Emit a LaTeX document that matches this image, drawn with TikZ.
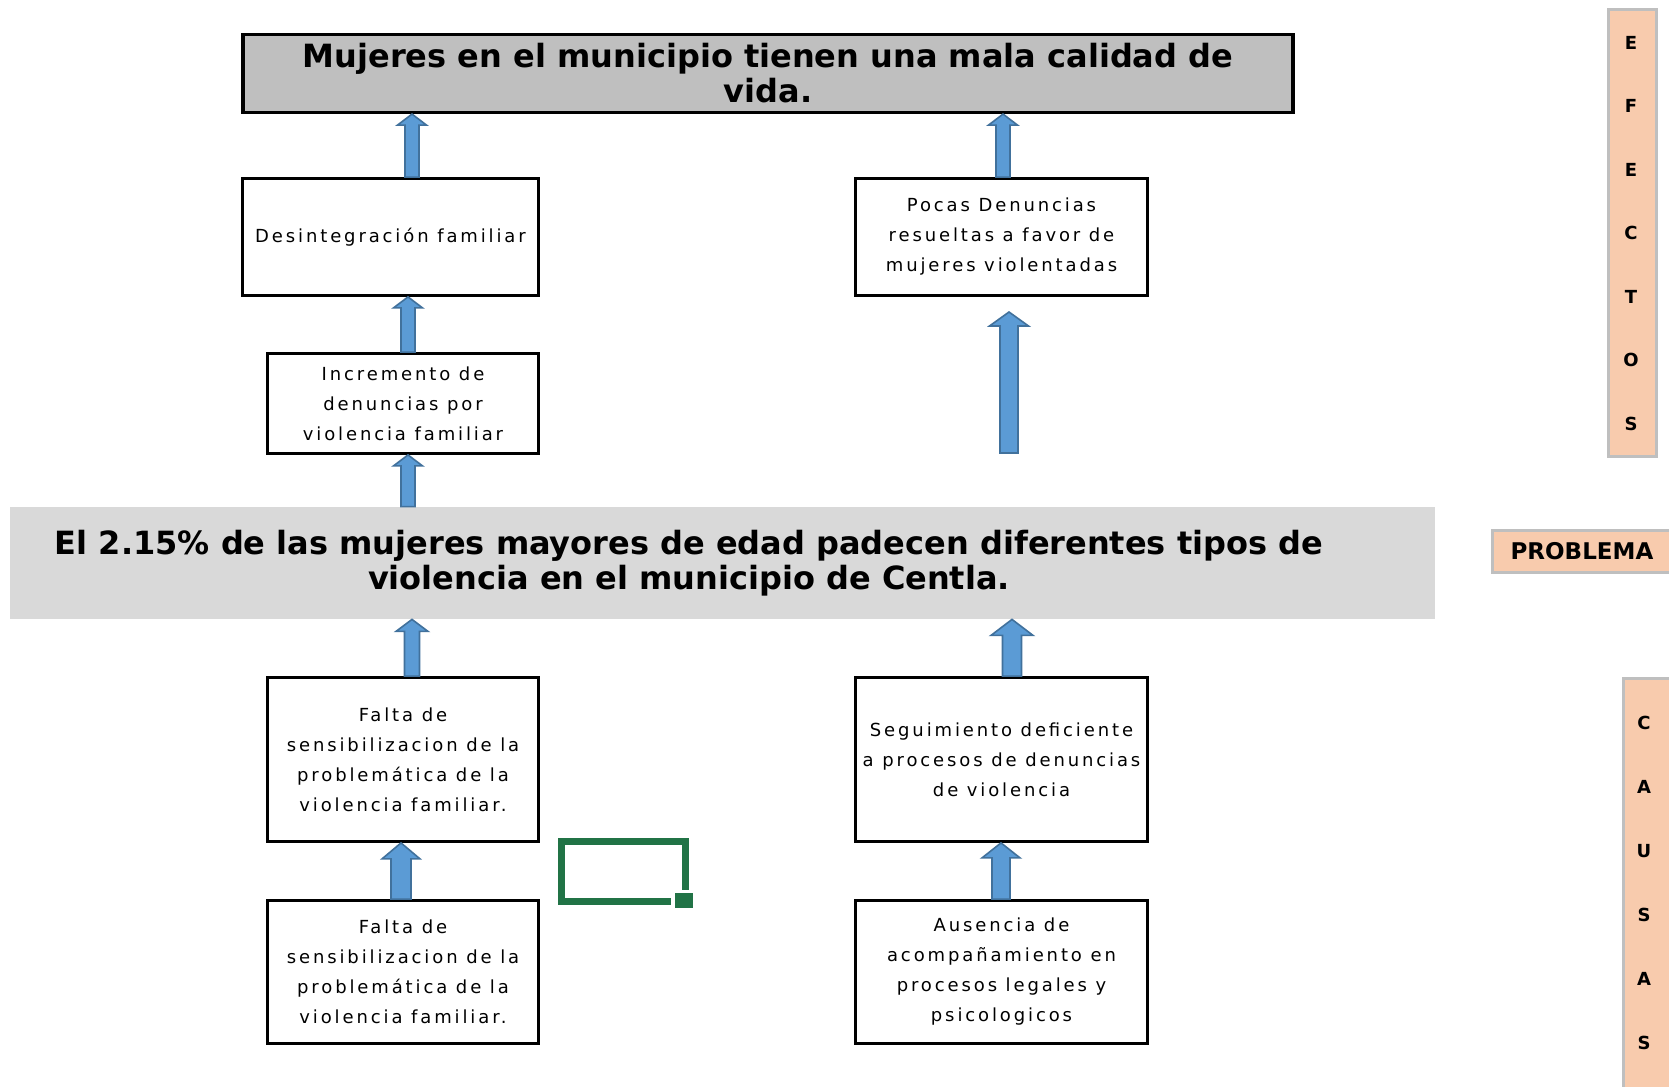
\documentclass[tikz,border=0pt]{standalone}
\usepackage{fontspec}
\setmainfont{DejaVu Sans}
\newfontfamily\cajafont[LetterSpace=16]{DejaVu Sans}
\usetikzlibrary{calc}

\definecolor{grisoscuro}{HTML}{BFBFBF}
\definecolor{grisclaro}{HTML}{D9D9D9}
\definecolor{salmon}{HTML}{F8CBAD}
\definecolor{azulflecha}{HTML}{5B9BD5}
\definecolor{bordeflecha}{HTML}{41719C}
\definecolor{verdecelda}{HTML}{217346}

% flecha de bloque: x, desde, hasta, medio cuerpo, media punta, largo punta
\newcommand{\flecha}[6]{%
  \filldraw[fill=azulflecha, draw=bordeflecha, line width=0.8pt]
    let \p1=(#2), \p2=(#3) in
    ({(#1-#4)*0.5pt},\y1) -- ({(#1-#4)*0.5pt},{\y2-#6*0.5pt})
    -- ({(#1-#5)*0.5pt},{\y2-#6*0.5pt}) -- ({#1*0.5pt},\y2)
    -- ({(#1+#5)*0.5pt},{\y2-#6*0.5pt}) -- ({(#1+#4)*0.5pt},{\y2-#6*0.5pt})
    -- ({(#1+#4)*0.5pt},\y1) -- cycle;}

\begin{document}
\begin{tikzpicture}[x=0.5pt, y=-0.5pt,
    caja/.style={draw, line width=1.4pt, fill=white, align=center, inner sep=0pt,
      font={\cajafont\fontsize{9}{15}\selectfont}},
    titulo/.style={draw, line width=1.6pt, fill=grisoscuro, align=center, inner sep=0pt,
      font={\bfseries\fontsize{16}{17.5}\selectfont}},
    tira/.style={draw=grisoscuro, line width=1.6pt, fill=salmon, inner sep=0pt},
    letras/.style={align=center, inner sep=0pt, font={\bfseries\fontsize{9}{31.75}\selectfont}}]
    \useasboundingbox (0,0) rectangle (1669,1086);
    \clip (0,0) rectangle (1669,1086);
    \fill[white] (0,0) rectangle (1669,1086);
    % efectos
    \node [titulo, minimum width=525pt, minimum height=39pt] (vida) at (768,73.5)
      {Mujeres en el municipio tienen una mala calidad de\\vida.};
    \node [caja, minimum width=148pt, minimum height=58.5pt] (desint) at (390.5,237)
      {Desintegración familiar};
    \node [caja, minimum width=146pt, minimum height=58.5pt] (pocas) at (1001.5,237)
      {Pocas Denuncias\\resueltas a favor de\\mujeres violentadas};
    \node [caja, minimum width=135.5pt, minimum height=50pt] (incremento) at (403,403.5)
      {Incremento de\\denuncias por\\violencia familiar};
    % problema
    \fill [grisclaro] (10,507) rectangle (1435,619);
    \node [align=center, inner sep=0pt, minimum width=679pt, minimum height=56pt,
      font={\bfseries\fontsize{16}{17.5}\selectfont}] (problema) at (689,563)
      {El 2.15\% de las mujeres mayores de edad padecen diferentes tipos de\\violencia en el municipio de Centla.};
    % causas
    \node [caja, minimum width=135.5pt, minimum height=82pt] (falta) at (403,759.5)
      {Falta de\\sensibilizacion de la\\problemática de la\\violencia familiar.};
    \node [caja, minimum width=146pt, minimum height=82pt] (seguimiento) at (1001.5,759.5)
      {Seguimiento deficiente\\a procesos de denuncias\\de violencia};
    \node [caja, minimum width=135.5pt, minimum height=71.5pt] (faltab) at (403,972)
      {Falta de\\sensibilizacion de la\\problemática de la\\violencia familiar.};
    \node [caja, minimum width=146pt, minimum height=71.5pt] (ausencia) at (1001.5,972)
      {Ausencia de\\acompañamiento en\\procesos legales y\\psicologicos};
    % flechas
    \coordinate (libreA) at (1009,453);
    \coordinate (libreB) at (1009,312);
    \flecha{412}{desint.north}{vida.south}{7}{14.5}{11}
    \flecha{1003}{pocas.north}{vida.south}{7}{14.5}{11}
    \flecha{408}{incremento.north}{desint.south}{7}{14.5}{11}
    \flecha{1009}{libreA}{libreB}{9}{19.5}{14}
    \flecha{408}{problema.north}{incremento.south}{7}{14.5}{11}
    \flecha{412}{falta.north}{problema.south}{7.5}{16}{12}
    \flecha{1012}{seguimiento.north}{problema.south}{9.5}{21}{16}
    \flecha{401}{faltab.north}{falta.south}{10}{19}{16}
    \flecha{1001}{ausencia.north}{seguimiento.south}{9}{19}{15}
    % celda
    \node [draw=verdecelda, line width=3.5pt, minimum width=62pt, minimum height=30pt,
      inner sep=0pt] (celda) at (623.5,871.5) {};
    \fill [white] (671,890) rectangle (697,912);
    \fill [verdecelda] (675,893) rectangle (693,908);
    % rotulos
    \node [tira, minimum width=24pt, minimum height=223.5pt] (tiraefectos) at (1632.5,233) {};
    \node [letras] (efectos) at (1631,233.5) {E\\F\\E\\C\\T\\O\\S};
    \node [tira, anchor=west, inner xsep=9pt, inner ysep=6pt,
      font={\bfseries\fontsize{11.5}{12}\selectfont}] (rotuloproblema) at (1491,551.5) {PROBLEMA};
    \node [tira, anchor=north west, minimum width=40pt, minimum height=220pt] (tiracausas) at (1622,677) {};
    \node [letras, font={\bfseries\fontsize{9}{32}\selectfont}] (causas) at (1644,882.5) {C\\A\\U\\S\\A\\S};
\end{tikzpicture}
\end{document}
